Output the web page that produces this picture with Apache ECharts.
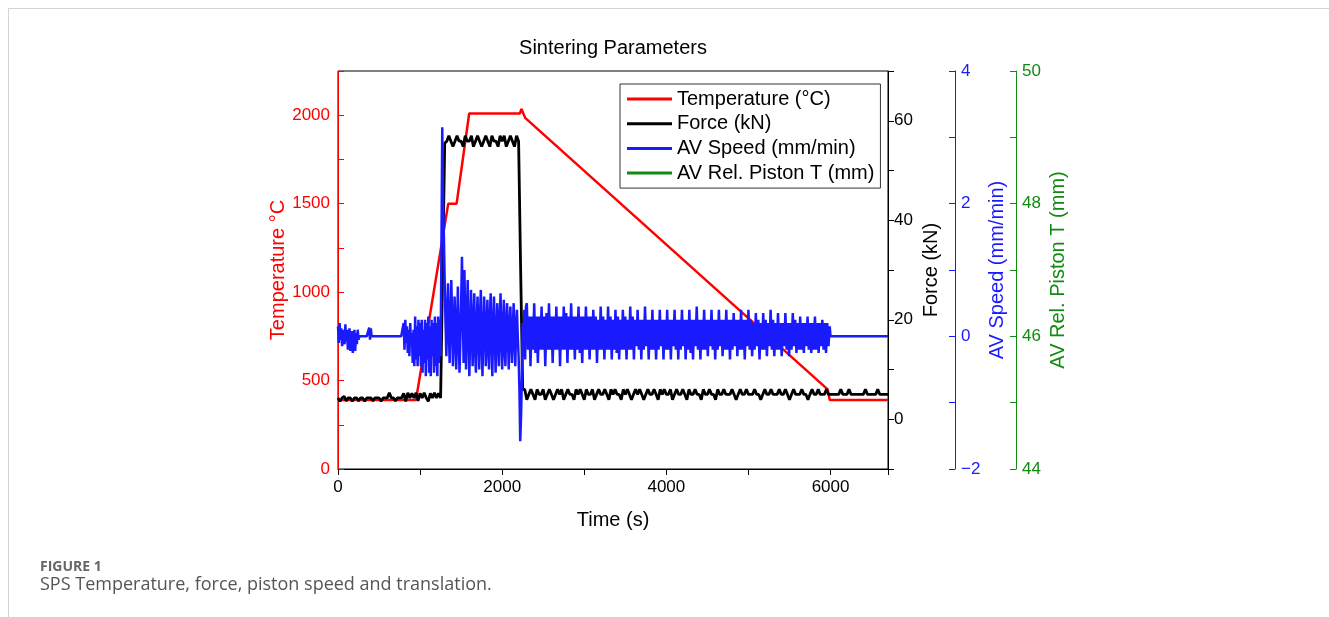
<!DOCTYPE html>
<html>
<head>
<meta charset="utf-8">
<script src="https://cdn.jsdelivr.net/npm/echarts@6/dist/echarts.min.js"></script>
<style>
  html, body { margin: 0; padding: 0; background: #fff; }
  #wrap { position: relative; width: 1329px; height: 617px; overflow: hidden; background: #fff; }
  #frame { position: absolute; left: 8px; top: 8px; width: 1320px; height: 620px; border-top: 1px solid #d4d4d4; border-left: 1px solid #d4d4d4; }
  #chart { position: absolute; left: 0; top: 0; width: 1329px; height: 617px; }
  #figlabel { position: absolute; left: 40px; top: 556px; font-family: "Open Sans", sans-serif; font-weight: bold; font-size: 14px; color: #666; }
  #caption { position: absolute; left: 40px; top: 571px; font-family: "Open Sans", sans-serif; font-size: 18px; color: #555; }
</style>
</head>
<body>
<div id="wrap">
  <div id="frame"></div>
  <div id="chart"></div>
  <div id="figlabel">FIGURE 1</div>
  <div id="caption">SPS Temperature, force, piston speed and translation.</div>
</div>
<script>
// ---------------- DATA ----------------
const seriesNames = ['Temperature (°C)', 'Force (kN)', 'AV Speed (mm/min)', 'AV Rel. Piston T (mm)'];

// Temperature (°C) breakpoints
const tempTime = [0, 950, 1343, 1445, 1598, 2215, 2235, 2280, 5965, 5990, 6700];
const tempVals = [390, 390, 1500, 1500, 2010, 2010, 2035, 1985, 450, 390, 390];

// Force (kN), sampled every 25 s from 0 s
const forceStart = 0, forceStep = 25;
const forceVals = [
  4.3, 3.6, 4.3, 4.6, 3.7, 4.3, 4.3, 3.6, 4.3, 4.3,
  3.7, 4.3, 4.3, 3.6, 4.3, 4.3, 4.3, 3.7, 4.3, 4.3,
  4.3, 3.6, 4.3, 4.3, 4.3, 5.3, 4.3, 4.3, 3.7, 4.3,
  4.3, 4.3, 5.2, 3.6, 5.3, 4.3, 5.2, 4.3, 5.3, 3.7,
  5.2, 4.3, 5.3, 4.3, 3.6, 5.2, 4.3, 5.3, 4.3, 5.2,
  4.3, 30, 55.5,
  55.9, 57.0, 55.9, 54.8, 55.9, 57.0, 55.9, 55.9, 54.8, 57.0,
  55.9, 55.9, 57.0, 54.8, 55.9, 57.0, 55.9, 54.8, 55.9, 57.0,
  55.9, 54.8, 57.0, 55.9, 55.9, 54.8, 57.0, 55.9, 57.0, 54.8,
  55.9, 57.0, 55.9, 54.8, 57.0, 55.9,
  30, 6,
  6.0, 3.9, 5.0, 6.0, 5.0, 3.9, 6.0, 5.0, 5.0, 6.0,
  3.9, 5.0, 6.0, 5.0, 3.9, 5.0, 6.0, 5.0, 6.0, 3.9,
  5.0, 6.0, 5.0, 5.0, 3.9, 6.0, 5.0, 6.0, 5.0, 3.9,
  6.0, 5.0, 5.0, 6.0, 3.9, 5.0, 6.0, 5.0, 5.0, 6.0,
  5.0, 3.9, 6.0, 5.0, 6.0, 5.0, 5.0, 3.9, 6.0, 5.0,
  6.0, 5.0, 3.9, 5.0, 6.0, 5.0, 6.0, 5.0, 3.9, 5.0,
  6.0, 5.0, 5.0, 6.0, 5.0, 3.9, 6.0, 5.0, 6.0, 5.0,
  5.0, 6.0, 3.9, 5.0, 6.0, 5.0, 5.0, 6.0, 5.0, 3.9,
  6.0, 5.0, 5.0, 6.0, 5.0, 5.0, 3.9, 6.0, 5.0, 5.0,
  6.0, 5.0, 5.0, 3.9, 6.0, 5.0, 5.0, 6.0, 5.0, 5.0,
  5.0, 6.0, 5.0, 3.9, 5.0, 6.0, 5.0, 5.0, 6.0, 5.0,
  5.0, 5.0, 6.0, 5.0, 5.0, 3.9, 5.0, 6.0, 5.0, 5.0,
  6.0, 5.0, 5.0, 5.0, 6.0, 5.0, 5.0, 6.0, 5.0, 3.9,
  5.0, 6.0, 5.0, 5.0, 5.0, 6.0, 5.0, 5.0, 3.9, 5.0,
  6.0, 5.0, 5.0, 6.0, 5.0, 5.0, 5.0, 6.0, 5.0, 5.0,
  5.0, 5.0, 5.0, 5.0, 6.0, 5.0, 5.0, 5.0, 6.0, 5.0,
  5.0, 5.0, 5.0, 5.0, 5.0, 5.0, 6.0, 5.0, 5.0, 5.0,
  5.0, 5.0, 6.0, 5.0, 5.0, 5.0, 5.0, 5.0
];

// AV Speed (mm/min): segment 1, every 10 s from 0 s
const speed1Start = 0, speed1Step = 10;
const speed1Vals = [
  0.15, -0.1, 0.2, -0.05, 0.12, -0.15, 0.1, 0.05, -0.12, 0.18,
  -0.08, 0.1, -0.2, 0.05, 0.12, -0.22, -0.1, 0.08, -0.25, -0.15,
  0.1, -0.22, 0.05, -0.12, 0.1, -0.05,
  0, 0, 0, 0, 0, 0, 0, 0, 0, 0, 0, 0,
  0.13, -0.05, 0.12, 0,
  0, 0, 0, 0, 0, 0, 0, 0, 0, 0, 0, 0, 0, 0, 0, 0, 0, 0, 0,
  0, 0, 0, 0, 0, 0, 0, 0, 0, 0, 0, 0, 0, 0, 0, 0, 0, 0, 0
];
// segment 2, every 10 s from 800 s
const speed2Start = 800, speed2Step = 10;
const speed2Vals = [
  0.2, -0.2, 0.25, -0.1, 0.15, -0.25, 0.1, -0.3, 0.2, -0.15,
  0.05, -0.4, 0.1, -0.45, 0.3, -0.35, 0.15, -0.45, 0.25, -0.3,
  0.2, -0.45, 0.25, -0.55, 0.1, -0.4, 0.25, -0.6, 0.2, -0.35,
  0.3, -0.55, 0.15, -0.6, 0.25, -0.3, 0.2, -0.55, 0.3, -0.45,
  0.2, -0.6, 0.3, -0.4, 0.25, -0.3, 1.3, 3.15, 2.0, 1.5,
  0.8, 0.2, -0.3, 0.3, 0.8, 0.1, -0.4, 0.2, 0.85, 0.3,
  -0.45, -0.1, 0.6, 0.2, -0.5, 0.0, 0.75, 0.1, -0.55, -0.1,
  0.5, 1.2, 0.4, -0.4, 1.0, 0.3, -0.5, 0.2, 0.85, 0.1,
  -0.6, 0.0, 0.7, 0.2, -0.45, 0.1, 0.65, -0.2, -0.55, 0.2,
  0.6, 0.0, -0.5, 0.3, 0.7, -0.1, -0.6, 0.1, 0.6, 0.2,
  -0.45, 0.0, 0.55, -0.15, -0.5, 0.3, 0.65, -0.05, -0.6, 0.15,
  0.6, 0.1, -0.55, -0.1, 0.5, 0.15, -0.45, 0.2, 0.65, 0.0,
  -0.5, 0.1, 0.55, -0.2, -0.45, 0.25, 0.5, 0.0, -0.5, 0.2,
  0.45, -0.1, -0.4, 0.15, 0.5, -0.05, -0.45, 0.2, 0.4, 0.0,
  -0.3, -0.8, -1.58, -1.2, -0.6, 0.2, -0.3, 0.4, -0.35, 0.45
];
// segment 3, every 15 s from 2300 s
const speed3Start = 2300, speed3Step = 15;
const speed3Vals = [
  0.5, -0.2, 0.3, -0.45, 0.3, -0.2, 0.5, -0.25, 0.3, -0.4,
  0.3, -0.2, 0.45, -0.2, 0.3, -0.45, 0.35, -0.2, 0.5, -0.2,
  0.3, -0.4, 0.3, -0.2, 0.45, -0.2, 0.3, -0.45, 0.3, -0.2,
  0.45, -0.2, 0.35, -0.4, 0.3, -0.2, 0.5, -0.2, 0.3, -0.35,
  0.3, -0.2, 0.45, -0.25, 0.3, -0.4, 0.3, -0.2, 0.45, -0.2,
  0.3, -0.35, 0.3, -0.2, 0.4, -0.2, 0.3, -0.4, 0.25, -0.2,
  0.45, -0.2, 0.3, -0.35, 0.25, -0.2, 0.45, -0.2, 0.3, -0.35,
  0.25, -0.2, 0.4, -0.25, 0.3, -0.35, 0.25, -0.2, 0.4, -0.2,
  0.3, -0.35, 0.25, -0.2, 0.45, -0.2, 0.3, -0.35, 0.25, -0.15,
  0.4, -0.2, 0.25, -0.35, 0.25, -0.2, 0.45, -0.15, 0.25, -0.35,
  0.25, -0.2, 0.4, -0.2, 0.25, -0.35, 0.25, -0.2, 0.4, -0.15,
  0.25, -0.35, 0.25, -0.2, 0.4, -0.2, 0.25, -0.35, 0.25, -0.15,
  0.4, -0.2, 0.25, -0.35, 0.25, -0.2, 0.4, -0.15, 0.25, -0.35,
  0.25, -0.2, 0.4, -0.25, 0.25, -0.35, 0.25, -0.15, 0.45, -0.2,
  0.25, -0.35, 0.25, -0.2, 0.4, -0.2, 0.25, -0.3, 0.25, -0.15,
  0.4, -0.2, 0.25, -0.35, 0.25, -0.2, 0.4, -0.15, 0.25, -0.3,
  0.25, -0.2, 0.4, -0.2, 0.25, -0.35, 0.25, -0.2, 0.35, -0.15,
  0.25, -0.3, 0.25, -0.2, 0.4, -0.2, 0.25, -0.35, 0.25, -0.15,
  0.4, -0.2, 0.25, -0.3, 0.2, -0.2, 0.35, -0.15, 0.25, -0.35,
  0.2, -0.2, 0.35, -0.2, 0.25, -0.3, 0.2, -0.15, 0.4, -0.2,
  0.25, -0.3, 0.2, -0.2, 0.35, -0.2, 0.2, -0.3, 0.2, -0.15,
  0.35, -0.2, 0.2, -0.3, 0.2, -0.2, 0.35, -0.15, 0.25, -0.25,
  0.2, -0.2, 0.3, -0.2, 0.2, -0.25, 0.2, -0.15, 0.3, -0.2,
  0.2, -0.25, 0.2, -0.2, 0.3, -0.2, 0.2, -0.25, 0.2, -0.15,
  0.25, -0.2, 0.2, -0.25, 0.2, -0.15, 0.15
];
// tail: idle after 6000 s
const speedTailTime = [6000, 6700];
const speedTailVals = [0, 0];

// AV Rel. Piston T (mm): no trace visible in the figure
const pistonTime = [];
const pistonVals = [];

// Axis ranges / ticks
const timeMax = 6700;
const tempMax = 2250;
const forceMin = -10, forceMax = 70;
const speedMin = -2, speedMax = 4;
const pistonMin = 44, pistonMax = 50;

// ---------------- BUILD ----------------
function sampled(start, step, vals) { return vals.map((v, i) => [start + i * step, v]); }
function paired(ts, vs) { return ts.map((t, i) => [t, vs[i]]); }

const tempData = paired(tempTime, tempVals);
const forceData = sampled(forceStart, forceStep, forceVals);
const speedData = [].concat(
  sampled(speed1Start, speed1Step, speed1Vals),
  sampled(speed2Start, speed2Step, speed2Vals),
  sampled(speed3Start, speed3Step, speed3Vals),
  paired(speedTailTime, speedTailVals)
);
const pistonData = paired(pistonTime, pistonVals);

const RED = '#ff0000', BLACK = '#000000', BLUE = '#1a1aff', GREEN = '#118a11';
const FONT = '"Liberation Sans", Arial, sans-serif';

const chart = echarts.init(document.getElementById('chart'), null, { renderer: 'canvas' });

function rightAxis(opts) {
  return Object.assign({
    type: 'value', position: 'right', splitLine: { show: false },
    axisLine: { show: true, onZero: false, lineStyle: { color: opts.color, width: 1 } },
    axisTick: { show: true, inside: opts.inside, length: 6, lineStyle: { color: opts.color } },
    axisLabel: { color: opts.color, fontSize: 17, fontFamily: FONT, margin: 6, formatter: opts.fmt },
    nameLocation: 'middle', nameRotate: 90,
    nameTextStyle: { color: opts.color, fontSize: 20, fontFamily: FONT }
  }, opts.extra);
}

chart.setOption({
  animation: false,
  backgroundColor: 'transparent',
  graphic: [{
    type: 'text', x: 613, y: 48,
    style: { text: 'Sintering Parameters', fill: '#000', font: '20px ' + FONT,
      align: 'center', verticalAlign: 'middle', textAlign: 'center', textVerticalAlign: 'middle' }
  }],
  grid: { left: 338, top: 71, width: 550, height: 398, show: true, borderColor: '#000', borderWidth: 1, containLabel: false },
  legend: {
    orient: 'vertical', left: 620, top: 84,
    data: seriesNames,
    icon: 'rect',
    backgroundColor: '#fff', borderColor: '#333', borderWidth: 1,
    padding: [5, 6, 5, 7],
    itemWidth: 45, itemHeight: 3, itemGap: 4.7, itemTextGap: 6,
    textStyle: { color: '#000', fontSize: 20, fontFamily: FONT, lineHeight: 20 }
  },
  xAxis: {
    type: 'value', min: 0, max: timeMax, interval: 1000,
    splitLine: { show: false },
    axisLine: { show: true, onZero: false, lineStyle: { color: '#000', width: 1 } },
    axisTick: { show: true, inside: false, length: 6, lineStyle: { color: '#000' } },
    axisLabel: { color: '#000', fontSize: 17, fontFamily: FONT, margin: 10,
      formatter: v => (v % 2000 === 0 ? String(v) : '') },
    name: 'Time (s)', nameLocation: 'middle', nameGap: 41,
    nameTextStyle: { color: '#000', fontSize: 20, fontFamily: FONT }
  },
  yAxis: [
    {
      type: 'value', position: 'left', min: 0, max: tempMax, interval: 250,
      splitLine: { show: false },
      axisLine: { show: true, onZero: false, lineStyle: { color: RED, width: 1 } },
      axisTick: { show: true, inside: true, length: 6, lineStyle: { color: RED } },
      axisLabel: { color: RED, fontSize: 17, fontFamily: FONT, margin: 8,
        formatter: v => (v % 500 === 0 ? String(v) : '') },
      name: 'Temperature °C', nameLocation: 'middle', nameGap: 50,
      nameTextStyle: { color: RED, fontSize: 20, fontFamily: FONT }
    },
    rightAxis({ color: BLACK, inside: false,
      fmt: v => (v >= 0 && v <= 60 && v % 20 === 0 ? String(v) : ''),
      extra: { min: forceMin, max: forceMax, interval: 10, offset: 0, name: 'Force (kN)', nameGap: 33 } }),
    rightAxis({ color: BLUE, inside: true,
      fmt: v => (v % 2 === 0 ? (v < 0 ? '\u2212' + (-v) : String(v)) : ''),
      extra: { min: speedMin, max: speedMax, interval: 1, offset: 67, name: 'AV Speed (mm/min)', nameGap: 32 } }),
    rightAxis({ color: GREEN, inside: true,
      fmt: v => (v % 2 === 0 ? String(v) : ''),
      extra: { min: pistonMin, max: pistonMax, interval: 1, offset: 128, name: 'AV Rel. Piston T (mm)', nameGap: 32 } })
  ],
  series: [
    { name: seriesNames[0], type: 'line', yAxisIndex: 0, data: tempData, showSymbol: false, symbol: 'none',
      color: RED, lineStyle: { color: RED, width: 2.5 }, z: 2 },
    { name: seriesNames[1], type: 'line', yAxisIndex: 1, data: forceData, showSymbol: false, symbol: 'none',
      color: BLACK, lineStyle: { color: BLACK, width: 2.8 }, z: 3 },
    { name: seriesNames[2], type: 'line', yAxisIndex: 2, data: speedData, showSymbol: false, symbol: 'none',
      color: BLUE, lineStyle: { color: BLUE, width: 2.5 }, z: 4 },
    { name: seriesNames[3], type: 'line', yAxisIndex: 3, data: pistonData, showSymbol: false, symbol: 'none',
      color: GREEN, lineStyle: { color: GREEN, width: 2.5 }, z: 5 }
  ]
});
</script>
</body>
</html>
